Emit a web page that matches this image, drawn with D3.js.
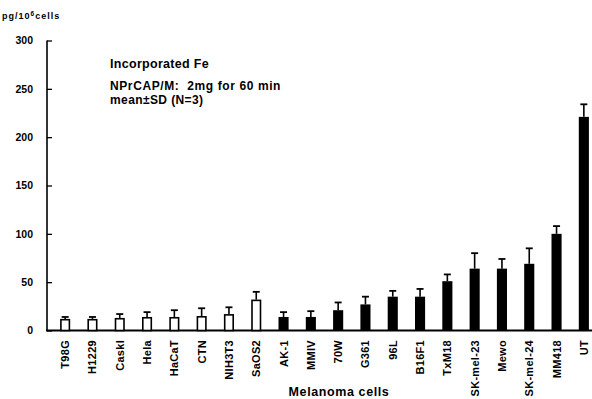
<!DOCTYPE html>
<html>
<head>
<meta charset="utf-8">
<style>
body { margin: 0; background: #fff; }
text { font-family: "Liberation Sans", Arial, sans-serif; font-weight: bold; fill: #000; }
</style>
</head>
<body>
<script src="https://cdn.jsdelivr.net/npm/d3@7"></script>
<script>

// cell lines, mean incorporated Fe (pg/10^6 cells) and SD
var cells = ["T98G", "H1229", "CaskI", "Hela", "HaCaT", "CTN", "NIH3T3", "SaOS2",
             "AK-1", "MMIV", "70W", "G361", "96L", "B16F1", "TxM18", "SK-mel-23",
             "Mewo", "SK-mel-24", "MM418", "UT"];
var means = [12, 12, 13, 14, 14, 15, 17, 32, 14, 14, 21, 27, 35, 35, 51, 64, 64, 69, 100, 221];
var sds   = [2, 2, 4, 5, 7, 8, 7, 8, 5, 6, 8, 8, 6, 8, 7, 16, 10, 16, 8, 13];
var melanoma = [false, false, false, false, false, false, false, false,
                true, true, true, true, true, true, true, true, true, true, true, true];
var yTicks = [0, 50, 100, 150, 200, 250, 300];

var width = 592,
    height = 399;

var svg = d3.select("body").append("svg")
    .attr("width", width)
    .attr("height", height);

var x = d3.scaleBand()
    .domain(cells)
    .range([51.5, 597.5])
    .paddingInner(0.63)
    .paddingOuter(0.315);

var y = d3.scaleLinear()
    .domain([0, 300])
    .range([330.5, 40.5]);

var axisX = 47;

// y axis
var yAxis = svg.append("g")
    .attr("transform", "translate(" + axisX + ",0)")
    .call(d3.axisLeft(y).tickValues(yTicks).tickSize(-5).tickPadding(14));
yAxis.select(".domain").attr("stroke-width", 1.6).attr("d", "M0," + y(300) + "V" + y(0));
yAxis.selectAll(".tick line").attr("stroke-width", 1.3);
yAxis.selectAll(".tick text")
    .style("font-size", "10.5px")
    .style("font-weight", "bold")
    .style("font-family", "'Liberation Sans', Arial, sans-serif");

// x axis baseline
svg.append("line")
    .attr("x1", axisX - 1)
    .attr("x2", width)
    .attr("y1", y(0))
    .attr("y2", y(0))
    .attr("stroke", "#000")
    .attr("stroke-width", 2);

// bars
var data = cells.map(function(c, i) {
  return {name: c, mean: means[i], sd: sds[i], mel: melanoma[i]};
});

var bar = svg.append("g").selectAll("g")
    .data(data)
    .enter().append("g");

// error bars (upper only)
bar.append("line")
    .attr("x1", function(d) { return x(d.name) + x.bandwidth() / 2; })
    .attr("x2", function(d) { return x(d.name) + x.bandwidth() / 2; })
    .attr("y1", function(d) { return y(d.mean); })
    .attr("y2", function(d) { return y(d.mean + d.sd); })
    .attr("stroke", "#000")
    .attr("stroke-width", 1.6);

bar.append("line")
    .attr("x1", function(d) { return x(d.name) + x.bandwidth() / 2 - 3.5; })
    .attr("x2", function(d) { return x(d.name) + x.bandwidth() / 2 + 3.5; })
    .attr("y1", function(d) { return y(d.mean + d.sd); })
    .attr("y2", function(d) { return y(d.mean + d.sd); })
    .attr("stroke", "#000")
    .attr("stroke-width", 1.8);

bar.append("rect")
    .attr("x", function(d) { return x(d.name) + (d.mel ? 0 : 0.8); })
    .attr("y", function(d) { return y(d.mean) + (d.mel ? 0 : 0.8); })
    .attr("width", function(d) { return x.bandwidth() - (d.mel ? 0 : 1.6); })
    .attr("height", function(d) { return y(0) - y(d.mean) - (d.mel ? 0 : 0.8); })
    .attr("fill", function(d) { return d.mel ? "#000" : "#fff"; })
    .attr("stroke", "#000")
    .attr("stroke-width", function(d) { return d.mel ? 0 : 1.6; });

// category labels, rotated
svg.append("g").selectAll("text")
    .data(cells)
    .enter().append("text")
    .attr("transform", function(d) {
      return "translate(" + (x(d) + x.bandwidth() / 2 + 4) + ",340) rotate(-90)";
    })
    .attr("text-anchor", "end")
    .style("font-size", "11px")
    .style("letter-spacing", "0.3px")
    .text(function(d) { return d; });

svg.append("text")
    .attr("x", 339)
    .attr("y", 396)
    .attr("text-anchor", "middle")
    .style("font-size", "12.5px")
    .style("letter-spacing", "0.6px")
    .text("Melanoma cells");

// unit label
svg.append("text")
    .attr("x", 2)
    .attr("y", 19)
    .style("font-size", "9px")
    .style("letter-spacing", "1px")
    .text("pg/10")
  .append("tspan")
    .attr("dy", -3)
    .style("font-size", "6.5px")
    .text("6")
  .select(function() { return this.parentNode; })
  .append("tspan")
    .attr("dy", 3)
    .text("cells");

// annotation
svg.append("text")
    .attr("x", 110)
    .attr("y", 68)
    .style("font-size", "12.5px")
    .style("letter-spacing", "0.3px")
    .text("Incorporated Fe");

svg.append("text")
    .attr("x", 110)
    .attr("y", 90)
    .style("font-size", "12px")
    .style("letter-spacing", "0.6px")
    .style("white-space", "pre")
    .text("NPrCAP/M:  2mg for 60 min");

svg.append("text")
    .attr("x", 110)
    .attr("y", 103.5)
    .style("font-size", "12px")
    .style("letter-spacing", "0.4px")
    .text("mean\u00b1SD (N=3)");

</script>
</body>
</html>
